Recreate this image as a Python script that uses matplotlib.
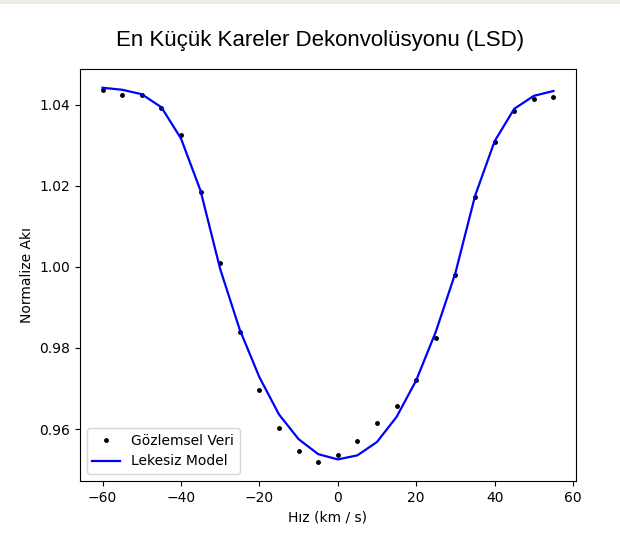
import numpy as np
import matplotlib.pyplot as plt
from matplotlib.patches import Rectangle

# Hız ekseni (km/s)
hiz = [-60, -55, -50, -45, -40, -35, -30, -25, -20, -15, -10, -5,
       0, 5, 10, 15, 20, 25, 30, 35, 40, 45, 50, 55]

# Gözlenen profil
gozlem = [1.0436, 1.0425, 1.0424, 1.0393, 1.0326, 1.0185, 1.0010, 0.9839,
          0.9696, 0.9603, 0.9546, 0.9518, 0.9535, 0.9571, 0.9615, 0.9656,
          0.9721, 0.9825, 0.9980, 1.0173, 1.0307, 1.0385, 1.0415, 1.0418]

# Lekesiz model profili
model = [1.0442, 1.0437, 1.0426, 1.0394, 1.0317, 1.0188, 0.9995, 0.9845,
         0.9728, 0.9636, 0.9575, 0.9538, 0.9525, 0.9535, 0.9568, 0.9630,
         0.9720, 0.9840, 0.9985, 1.0175, 1.0310, 1.0390, 1.0422, 1.0434]

fig = plt.figure(figsize=(6.2, 5.35), dpi=100)
ax = fig.add_axes([0.129, 0.101, 0.8, 0.77])

# üstteki ince gri şerit
fig.patches.append(Rectangle((0, 1 - 4 / 535), 1, 4 / 535, transform=fig.transFigure,
                             facecolor='#eeece4', edgecolor='none', zorder=0))

ax.plot(hiz, gozlem, 'k.', markersize=5, label='Gözlemsel Veri')
ax.plot(hiz, model, 'b-', linewidth=1.6, label='Lekesiz Model')

ax.set_xlabel('Hız (km / s)')
ax.set_ylabel('Normalize Akı')
fig.text(0.517, 0.925, 'En Küçük Kareler Dekonvolüsyonu (LSD)',
         ha='center', va='center', fontsize=16, family='Liberation Sans')
ax.legend(loc='lower left')

fig.savefig('out.png', dpi=100)
